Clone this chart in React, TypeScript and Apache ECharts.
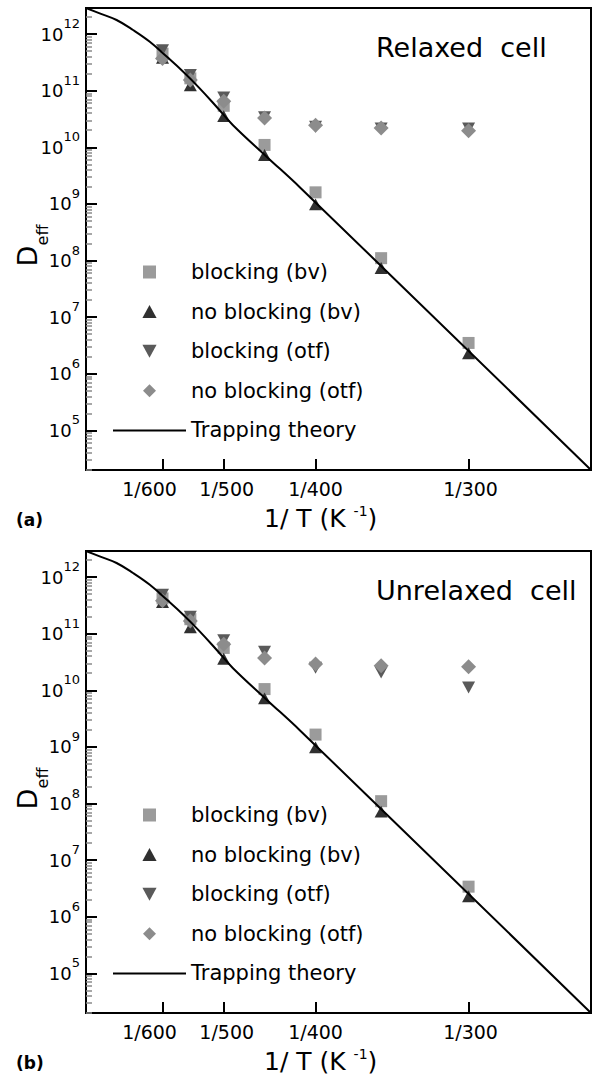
import React, { useEffect, useRef } from 'react';
import * as echarts from 'echarts';

const FONT = '"DejaVu Sans", "Liberation Sans", sans-serif';

// temperatures (K) of the simulated points
const temperatures = [600, 550, 500, 450, 400, 350, 300];

// (a) Relaxed cell
const blockingBvA = [4.5e11, 1.65e11, 5.4e10, 1.1e10, 1.6e9, 1.1e8, 3.5e6];
const noBlockingBvA = [3.8e11, 1.25e11, 3.55e10, 7.3e9, 9.8e8, 7.4e7, 2.3e6];
const blockingOtfA = [5.2e11, 1.9e11, 7.6e10, 3.4e10, 2.3e10, 2.15e10, 2.15e10];
const noBlockingOtfA = [3.7e11, 1.55e11, 6.5e10, 3.3e10, 2.45e10, 2.2e10, 1.95e10];

// (b) Unrelaxed cell
const blockingBvB = [4.2e11, 1.8e11, 5.6e10, 1.05e10, 1.65e9, 1.1e8, 3.4e6];
const noBlockingBvB = [3.6e11, 1.3e11, 3.6e10, 7.2e9, 9.8e8, 7.2e7, 2.3e6];
const blockingOtfB = [4.9e11, 2.0e11, 7.7e10, 4.8e10, 2.5e10, 2.05e10, 1.12e10];
const noBlockingOtfB = [3.8e11, 1.67e11, 6.5e10, 3.7e10, 2.9e10, 2.7e10, 2.6e10];

// trapping theory curve
const theoryT = [800, 755, 706, 664, 626, 592, 562, 535, 510, 488, 448, 414, 250];
const theoryD = [2.88e12, 2.32e12, 1.77e12, 1.18e12, 7.3e11, 4.0e11, 2.16e11, 1.1e11, 5.2e10, 2.48e10, 6.9e9, 1.95e9, 2.0e4];

// axes
const xTickT = [600, 500, 400, 300];
const yDecades = [5, 6, 7, 8, 9, 10, 11, 12];
const seriesNames = ['blocking (bv)', 'no blocking (bv)', 'blocking (otf)', 'no blocking (otf)', 'Trapping theory'];
const panelTitles = ['Relaxed  cell', 'Unrelaxed  cell'];
const panelTags = ['(a)', '(b)'];

const X_MIN = 1 / 800;
const X_MAX = 1 / 250;
const Y_MIN = 4.3;
const Y_MAX = 12.46;
const GRID_TOPS = [8, 551];
const GRID_LEFT = 86;
const GRID_W = 505;
const GRID_H = 462;

const pts = (ts: number[], vs: number[]) => ts.map((t, i) => [1 / t, Math.log10(vs[i])]);

const minorValues: number[] = [];
for (let n = 4; n <= 12; n++) {
  for (let k = 2; k <= 9; k++) {
    const v = n + Math.log10(k);
    if (v >= Y_MIN && v <= Y_MAX) minorValues.push(v);
  }
}

const SQUARE = 'path://M0,0L10,0L10,10L0,10Z';
const UP_TRI = 'path://M6,0L12,11L0,11Z';
const DOWN_TRI = 'path://M0,0L12,0L6,11Z';
const DIAMOND = 'path://M6,0L12,6L6,12L0,6Z';

function buildOption() {
  const panelData = [
    [blockingBvA, noBlockingBvA, blockingOtfA, noBlockingOtfA],
    [blockingBvB, noBlockingBvB, blockingOtfB, noBlockingOtfB],
  ];
  const grids: any[] = [];
  const xAxes: any[] = [];
  const yAxes: any[] = [];
  const series: any[] = [];
  const legends: any[] = [];
  const graphics: any[] = [];

  [0, 1].forEach((p) => {
    const top = GRID_TOPS[p];
    const off = top - GRID_TOPS[0];
    grids.push({
      left: GRID_LEFT,
      top,
      width: GRID_W,
      height: GRID_H,
      show: true,
      borderColor: '#000',
      borderWidth: 2,
      backgroundColor: 'transparent',
    });
    xAxes.push({
      type: 'value',
      gridIndex: p,
      min: X_MIN,
      max: X_MAX,
      axisLine: { show: true, onZero: false, lineStyle: { color: '#000', width: 2 } },
      axisTick: {
        show: true,
        inside: true,
        length: 11,
        customValues: xTickT.map((t) => 1 / t),
        lineStyle: { color: '#000', width: 2 },
      },
      axisLabel: {
        customValues: xTickT.map((t) => 1 / t),
        margin: 9,
        color: '#000',
        fontFamily: FONT,
        fontSize: 19,
        formatter: (v: number) => {
          const t = Math.round(1 / v);
          return `{p${t}|1/${t}}`;
        },
        rich: {
          p600: { fontFamily: FONT, fontSize: 19, color: '#000', padding: [0, 26, 0, 0] },
          p500: { fontFamily: FONT, fontSize: 19, color: '#000', padding: [0, 0, 0, 6] },
          p400: { fontFamily: FONT, fontSize: 19, color: '#000' },
          p300: { fontFamily: FONT, fontSize: 19, color: '#000', padding: [0, 0, 0, 4] },
        },
      },
      splitLine: { show: false },
    });
    yAxes.push({
      type: 'value',
      gridIndex: p,
      min: Y_MIN,
      max: Y_MAX,
      axisLine: { show: true, onZero: false, lineStyle: { color: '#000', width: 2 } },
      axisTick: {
        show: true,
        inside: true,
        length: 11,
        customValues: yDecades,
        lineStyle: { color: '#000', width: 2 },
      },
      axisLabel: {
        customValues: yDecades,
        margin: 6,
        formatter: (v: number) => `{b|10}{s|${Math.round(v)}}`,
        rich: {
          b: { fontFamily: FONT, fontSize: 18, lineHeight: 34, color: '#000' },
          s: { fontFamily: FONT, fontSize: 13, lineHeight: 18, verticalAlign: 'top', color: '#000' },
        },
      },
      splitLine: { show: false },
    });
    yAxes.push({
      type: 'value',
      gridIndex: p,
      min: Y_MIN,
      max: Y_MAX,
      position: 'left',
      axisLine: { show: false },
      axisTick: {
        show: true,
        inside: true,
        length: 6,
        customValues: minorValues,
        lineStyle: { color: '#8a8a8a', width: 1.5 },
      },
      axisLabel: { show: false },
      splitLine: { show: false },
    });

    const [bv, nbv, otf, notf] = panelData[p];
    const yIdx = p * 2;
    series.push(
      {
        name: seriesNames[0], type: 'scatter', xAxisIndex: p, yAxisIndex: yIdx,
        symbol: SQUARE, symbolSize: 12, symbolKeepAspect: true,
        itemStyle: { color: '#9b9b9b', opacity: 1 },
        data: pts(temperatures, bv),
      },
      {
        name: seriesNames[1], type: 'scatter', xAxisIndex: p, yAxisIndex: yIdx,
        symbol: UP_TRI, symbolSize: 13, symbolKeepAspect: true,
        itemStyle: { color: '#303030', opacity: 1 },
        data: pts(temperatures, nbv),
      },
      {
        name: seriesNames[2], type: 'scatter', xAxisIndex: p, yAxisIndex: yIdx,
        symbol: DOWN_TRI, symbolSize: 13, symbolKeepAspect: true,
        itemStyle: { color: '#5a5a5a', opacity: 1 },
        data: pts(temperatures, otf),
      },
      {
        name: seriesNames[3], type: 'scatter', xAxisIndex: p, yAxisIndex: yIdx,
        symbol: DIAMOND, symbolSize: 15, symbolKeepAspect: true,
        itemStyle: { color: '#8c8c8c', opacity: 1 },
        data: pts(temperatures, notf),
      },
      {
        name: seriesNames[4], type: 'line', xAxisIndex: p, yAxisIndex: yIdx,
        symbol: 'none', smooth: 0.4, z: 5,
        lineStyle: { color: '#000', width: 2 }, itemStyle: { color: '#000', opacity: 0 },
        data: pts(theoryT, theoryD),
      },
    );

    legends.push({
      orient: 'vertical',
      left: 112,
      top: 261 + off,
      padding: 0,
      itemWidth: 73,
      itemHeight: 13,
      itemGap: 17.6,
      selectedMode: false,
      symbolKeepAspect: true,
      data: seriesNames.map((n, i) =>
        i === 4 ? { name: n, itemStyle: { opacity: 0 } } : { name: n },
      ),
      textStyle: { fontFamily: FONT, fontSize: 21, lineHeight: 22, color: '#000' },
    });

    graphics.push(
      {
        type: 'text', x: 376, y: 47 + off,
        style: { text: panelTitles[p], fontFamily: FONT, fontSize: 27, fill: '#000', align: 'left', verticalAlign: 'middle' },
      },
      {
        type: 'text', x: 16, y: 520 + off,
        style: { text: panelTags[p], fontFamily: FONT, fontSize: 17, fontWeight: 'bold', fill: '#000', align: 'left', verticalAlign: 'middle' },
      },
      {
        type: 'text', x: 264, y: 518 + off,
        style: {
          text: '{a|1/ T (K }{s|-1}{a|)}',
          align: 'left', verticalAlign: 'middle',
          rich: {
            a: { fontFamily: FONT, fontSize: 25, lineHeight: 28, fill: '#000', color: '#000' },
            s: { fontFamily: FONT, fontSize: 14, lineHeight: 16, verticalAlign: 'top', fill: '#000', color: '#000' },
          },
        },
      },
      {
        type: 'text', x: 27, y: 256 + off, rotation: Math.PI / 2,
        style: { text: 'D', fontFamily: FONT, fontSize: 27, fill: '#000', align: 'center', verticalAlign: 'middle' },
      },
      {
        type: 'text', x: 42, y: 235 + off, rotation: Math.PI / 2,
        style: { text: 'eff', fontFamily: FONT, fontSize: 16, fill: '#000', align: 'center', verticalAlign: 'middle' },
      },
    );
  });

  return {
    animation: false,
    backgroundColor: '#fff',
    grid: grids,
    xAxis: xAxes,
    yAxis: yAxes,
    legend: legends,
    series,
    graphic: graphics,
  };
}

export default function App() {
  const ref = useRef<HTMLDivElement>(null);
  useEffect(() => {
    if (!ref.current) return;
    const chart = echarts.init(ref.current, undefined, { renderer: 'svg' });
    chart.setOption(buildOption() as any);
    return () => chart.dispose();
  }, []);
  return (
    <div
      ref={ref}
      style={{ position: 'absolute', left: 0, top: 0, width: 594, height: 1076, background: '#fff' }}
    />
  );
}
